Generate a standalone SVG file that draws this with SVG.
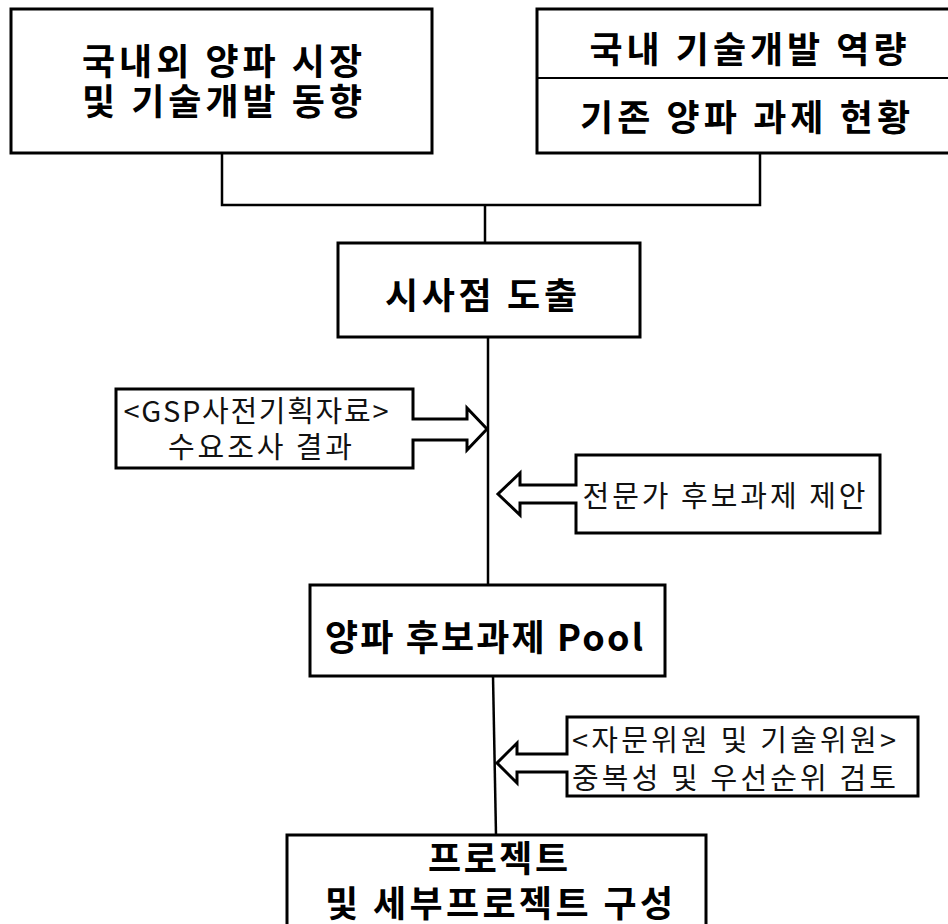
<svg xmlns="http://www.w3.org/2000/svg" width="948" height="924" viewBox="0 0 948 924">
<style>
.box{fill:#fff;stroke:#000;stroke-width:3}
.call{fill:#fff;stroke:#000;stroke-width:3;stroke-linejoin:miter}
.div{stroke:#000;stroke-width:2}
.con{fill:none;stroke:#000;stroke-width:2.5}
.b{font-family:"Noto Sans CJK KR","Noto Sans",sans-serif;font-weight:bold;font-size:36px;fill:#000;text-anchor:middle;dominant-baseline:central}
.r{font-family:"Noto Sans CJK KR","Noto Sans",sans-serif;font-weight:normal;font-size:29px;fill:#111;text-anchor:middle;dominant-baseline:central}
</style>
<rect width="948" height="924" fill="#fff"/>
<g id="connectors">
<path class="con" d="M222,153 V205 H760 V153"/>
<path class="con" d="M485,205 V243"/>
<path class="con" d="M488,337 V585"/>
<path class="con" d="M493,676 L496,835"/>
</g>
<g id="n-domestic-foreign">
<rect class="box" x="11" y="9" width="421" height="144"/>
<text class="b" x="222" y="59" textLength="280">국내외 양파 시장</text>
<text class="b" x="222" y="99" textLength="280">및 기술개발 동향</text>
</g>
<g id="n-capability">
<rect class="box" x="537" y="9" width="420" height="144"/>
<line class="div" x1="537" y1="78" x2="950" y2="78"/>
<text class="b" x="748" y="47" textLength="317">국내 기술개발 역량</text>
<text class="b" x="745" y="115" textLength="330">기존 양파 과제 현황</text>
</g>
<g id="n-insight">
<rect class="box" x="338" y="243" width="302" height="94"/>
<text class="b" x="481" y="293" textLength="192">시사점 도출</text>
</g>
<g id="n-gsp">
<path class="call" d="M116,389 H413 V419 H467 V408 L487,429 L467,450 V440 H413 V468 H116 Z"/>
<text class="r" x="256" y="409" textLength="265">&lt;GSP사전기획자료&gt;</text>
<text class="r" x="260" y="445" textLength="184">수요조사 결과</text>
</g>
<g id="n-expert">
<path class="call" d="M576,455 H880 V533 H576 V503 H520 V515 L498,494 L520,473 V485 H576 Z"/>
<text class="r" x="724" y="494" textLength="283">전문가 후보과제 제안</text>
</g>
<g id="n-pool">
<rect class="box" x="310" y="585" width="355" height="91"/>
<text class="b" x="484" y="635" textLength="318">양파 후보과제 Pool</text>
</g>
<g id="n-review">
<path class="call" d="M567,717 H918 V796 H567 V772 H517 V783 L497,763 L517,743 V754 H567 Z"/>
<text class="r" x="734" y="738" textLength="324">&lt;자문위원 및 기술위원&gt;</text>
<text class="r" x="734" y="776" textLength="324">중복성 및 우선순위 검토</text>
</g>
<g id="n-project">
<rect class="box" x="287" y="835" width="419" height="100"/>
<text class="b" x="498" y="856" textLength="140">프로젝트</text>
<text class="b" x="499" y="901" textLength="348">및 세부프로젝트 구성</text>
</g>
</svg>
